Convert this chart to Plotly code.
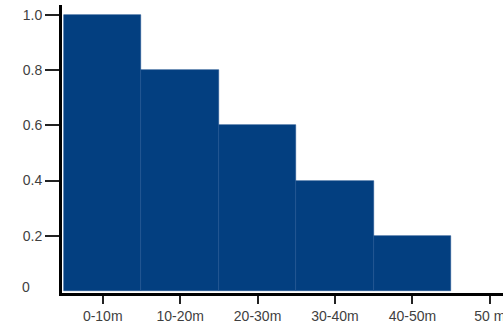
import plotly.graph_objects as go

categories = ["0-10m", "10-20m", "20-30m", "30-40m", "40-50m", "50 m"]
values = [1.0, 0.8, 0.6, 0.4, 0.2, None]
y_tick_vals = [0.2, 0.4, 0.6, 0.8, 1.0]
y_tick_text = ["0.2", "0.4", "0.6", "0.8", "1.0"]
zero_label = "0"

fig = go.Figure(
    go.Bar(
        x=categories,
        y=values,
        marker=dict(color="#033f80", line=dict(color="#1f5290", width=0.6)),
    )
)

font = dict(family="Liberation Sans, Arial, sans-serif", size=14, color="#3f3f3f")

fig.update_layout(
    width=503,
    height=330,
    margin=dict(l=62, r=0, t=5, b=37),
    paper_bgcolor="white",
    plot_bgcolor="white",
    bargap=0,
    showlegend=False,
    font=font,
    xaxis=dict(
        type="category",
        range=[-0.526, 5.17],
        showline=True,
        linecolor="black",
        linewidth=3,
        ticks="outside",
        ticklen=8,
        tickwidth=2,
        tickcolor="#222",
        showgrid=False,
        zeroline=False,
        tickfont=font,
        automargin=False,
    ),
    yaxis=dict(
        range=[-0.008, 1.037],
        tickvals=y_tick_vals,
        ticktext=y_tick_text,
        showline=True,
        linecolor="black",
        linewidth=3,
        ticks="outside",
        ticklen=14,
        tickwidth=2,
        tickcolor="#222",
        showgrid=False,
        zeroline=False,
        tickfont=font,
        automargin=False,
    ),
    annotations=[
        dict(
            text=zero_label,
            xref="paper",
            yref="y",
            x=-0.068,
            y=0.014,
            xanchor="right",
            yanchor="middle",
            showarrow=False,
            font=font,
        )
    ],
)

fig.write_html(
    "out.html",
    config={"displayModeBar": False},
    post_script="document.body.style.margin='0';document.body.style.overflow='hidden';",
)
